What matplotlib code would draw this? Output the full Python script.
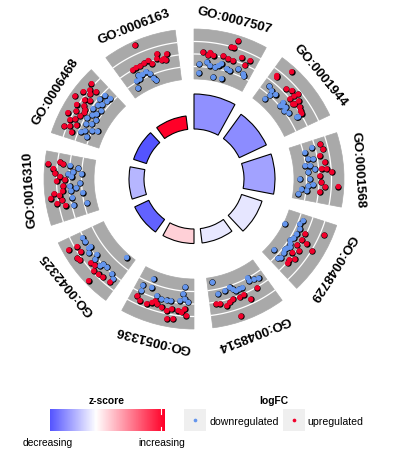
import numpy as np
import matplotlib
matplotlib.use('Agg')
import matplotlib.pyplot as plt
from matplotlib.colors import LinearSegmentedColormap, Normalize
from matplotlib.patches import Rectangle

plt.rcParams['font.family'] = ['Liberation Sans', 'DejaVu Sans']

# GO terms, clockwise from 12 o'clock
go_ids = ['GO:0007507', 'GO:0001944', 'GO:0001568', 'GO:0048729', 'GO:0048514',
          'GO:0051336', 'GO:0042325', 'GO:0016310', 'GO:0006468', 'GO:0006163']
neg_log_padj = [7.0, 6.0, 6.2, 4.3, 2.9, 2.9, 3.1, 3.0, 2.7, 2.7]
zscores = [-1.3, -1.35, -1.1, -0.3, -0.28, 0.55, -1.85, -0.85, -2.0, 3.0]
# logFC axis range used inside each term's outer block
lfc_limits = [(-3, 4), (-4, 5), (-4, 4), (-2, 3), (-4, 5),
              (-4, 4), (-3, 2), (-5, 4), (-4, 4), (-2, 3)]

# gene logFC per term and where the gene sits across the block (0..1)
lfc_0007507 = [3.30, 2.25, 0.78, 0.85, 0.50, 0.71, 0.50, 0.43, 1.27, 1.34, 0.43, 0.43, 2.18,
               -0.90, -0.55, -0.97, -0.76, -0.41, -0.90, -0.41, -0.76, -2.51, -2.44, -2.16, -1.04, -1.04, -1.11]
pos_0007507 = [.64, .61, .08, .21, .28, .46, .56, .66, .79, .95, .90, .18, .56,
               .02, .17, .24, .41, .46, .59, .81, .94, .35, .54, .02, .97, .66, .35]
lfc_0001944 = [1.85, 4.10, 1.22, 1.76, 1.40, 1.49, 1.04, 0.68, 2.21, 0.50, 0.32, 1.58, 0.77, 0.59,
               -0.49, -0.85, -2.74, -1.66, -1.30, -1.66, -1.21, -0.40, -1.66, -0.85, -0.85, -1.03, -0.13]
pos_0001944 = [.02, .17, .31, .40, .50, .62, .72, .84, .52, .49, .60, .04, .79, .62,
               .04, .13, .14, .47, .51, .61, .70, .85, .17, .24, .46, .57, .86]
lfc_0001568 = [-1.76, -1.44, -1.28, -1.68, -1.44, -1.68, -1.84, -3.12, -0.64, -0.56, -0.88, -2.72, -3.04, -2.08, -0.48,
               0.96, 1.20, 0.48, 1.12, 1.28, 2.08, 0.40, 1.04, 0.24, 3.12, 0.48, 0.16]
pos_0001568 = [.10, .24, .38, .51, .65, .79, .89, .98, .26, .46, .76, .87, .65, .37, .04,
               .02, .12, .22, .35, .47, .53, .71, .79, .89, .77, .46, .59]
lfc_0048729 = [-0.30, -0.30, -0.40, -0.40, -0.25, -1.30, -1.85, -0.35, -0.40, -0.35, -0.50, -0.60, -0.20, -0.50, -0.45,
               2.20, 1.85, 0.40, 0.25, 0.30, 0.50, 0.60, 0.40, 1.00, 0.75, 0.90]
pos_0048729 = [.03, .21, .43, .67, .90, .87, .25, .33, .56, .79, .12, .50, .62, .72, .95,
               .13, .46, .38, .51, .68, .82, .89, .25, .40, .58, .75]
lfc_0048514 = [-3.10, -0.85, -1.48, -0.49, -0.58, -1.12, -0.94, -1.75, -0.58, -0.94, -1.12, -0.67,
               0.95, 1.58, 0.77, 0.86, 1.94, 0.68, 4.10, 0.86, 1.13, 0.68]
pos_0048514 = [.97, .90, .64, .54, .40, .22, .12, .22, .47, .59, .75, .03,
               .90, .79, .65, .52, .35, .15, .61, .97, .72, .43]
lfc_0051336 = [-1.36, -1.12, -0.24, -0.40, -0.08, -0.08, -0.16, -0.40, -0.72, -0.24, -2.64, -2.72, -1.52,
               0.80, 1.28, 1.36, 0.88, 0.88, 1.20, 1.52, 1.12, 1.20, 1.44, 0.88, 1.92, 2.80, 2.64, 0.48]
pos_0051336 = [.78, .96, .94, .63, .53, .43, .35, .18, .09, .02, .10, .81, .13,
               .97, .89, .76, .68, .58, .49, .39, .31, .19, .13, .08, .04, .36, .26, .63]
lfc_0042325 = [-0.40, -0.45, -0.65, -0.15, -0.25, -0.20, -0.60, -0.45, -0.15, -2.65, -0.40, -0.70, -0.55,
               1.40, 0.50, 0.45, 1.10, 0.30, 0.60, 0.50, 0.40, 1.65, 0.30, 1.00, 0.15]
pos_0042325 = [.98, .89, .76, .68, .52, .37, .26, .11, .03, .10, .76, .57, .35,
               .91, .89, .78, .72, .52, .38, .28, .19, .32, .04, .67, .44]
lfc_0016310 = [3.37, 1.30, 0.67, 2.02, 1.12, 1.75, 0.58, 3.01, 1.39, 1.03, 0.58, 2.02, 2.29, 0.22, 0.76, 2.38,
               -0.59, -1.22, -0.95, -0.59, -0.77, -0.86, -0.86, -2.48, -2.12, -2.75, -2.84, -3.29, -0.32, -1.76]
pos_0016310 = [.89, .94, .91, .74, .69, .61, .52, .33, .36, .27, .17, .23, .40, .63, .43, .82,
               .90, .78, .69, .51, .42, .29, .14, .56, .86, .75, .36, .13, .74, .47]
lfc_0006468 = [0.96, 2.40, 1.60, 0.64, 2.00, 1.28, 2.80, 0.80, 1.76, 0.48, 2.24, 1.12, 3.20, 1.60, 0.80,
               2.56, 1.44, 1.92, 0.96, 2.40, 0.64,
               -1.60, -0.40, -0.96, -2.00, -0.64, -1.44, -0.32, -1.76, -0.80, -1.28, -0.32, -1.60, -0.64,
               -1.12, -0.24, -1.36, -0.48, -1.44, -2.80]
pos_0006468 = [.03, .08, .12, .18, .22, .27, .31, .36, .40, .45, .50, .55, .60, .64, .69,
               .74, .78, .83, .88, .93, .50,
               .05, .10, .15, .21, .28, .33, .39, .44, .49, .55, .60, .66, .71,
               .77, .82, .88, .94, .97, .25]
lfc_0006163 = [2.60, 1.05, 0.40, 0.70, 0.60, 0.50, 0.50, 0.55, 0.25, 0.30, 0.20, 0.80, 0.60,
               -0.25, -1.35, -0.35, -0.25, -0.60, -1.15, -1.45, -0.65, -0.65]
pos_0006163 = [.41, .71, .81, .52, .43, .34, .18, .26, .57, .76, .84, .88, .68,
               .23, .09, .31, .40, .46, .49, .53, .14, .22]

gene_lfc = [lfc_0007507, lfc_0001944, lfc_0001568, lfc_0048729, lfc_0048514,
            lfc_0051336, lfc_0042325, lfc_0016310, lfc_0006468, lfc_0006163]
gene_pos = [pos_0007507, pos_0001944, pos_0001568, pos_0048729, pos_0048514,
            pos_0051336, pos_0042325, pos_0016310, pos_0006468, pos_0006163]

up_col = '#F2002B'
down_col = '#6495ED'
block_col = '#A9A9A9'

W, H = 393, 460
fig = plt.figure(figsize=(W / 100, H / 100), dpi=100)

# polar axes: centre at (194, 180) px, 50 px per radial unit
cx, cy, unit, rmax = 194, 180, 50, 3.5
rad = unit * rmax
ax = fig.add_axes([(cx - rad) / W, (H - cy - rad) / H, 2 * rad / W, 2 * rad / H], projection='polar')
ax.set_theta_zero_location('N')
ax.set_theta_direction(-1)
ax.set_ylim(0, rmax)
ax.axis('off')

N = len(go_ids)
sector = 2 * np.pi / N
span = 0.8 * sector
starts = np.arange(N) * sector

cmap = LinearSegmentedColormap.from_list('zsc', ['#0000FF', '#FFFFFF', '#FF0028'])
zmax = max(abs(z) for z in zscores)
norm = Normalize(-zmax, zmax)

# outer grey blocks with white guide arcs
ax.bar(starts, 1, width=span, bottom=2, align='edge', color=block_col, edgecolor=block_col, linewidth=0.5)
for s in starts:
    th = np.linspace(s, s + span, 60)
    for r in (2.25, 2.5, 2.75):
        ax.plot(th, np.full_like(th, r), color='white', linewidth=0.9)

# inner bars: height = significance, fill = z-score
ax.bar(starts, np.array(neg_log_padj) * 0.1, width=span, bottom=1, align='edge',
       color=cmap(norm(np.array(zscores))), edgecolor='black', linewidth=0.8)

# gene points
all_th, all_r, all_c = [], [], []
for i in range(N):
    lo, hi = lfc_limits[i]
    lfc = np.array(gene_lfc[i])
    pos = np.array(gene_pos[i])
    all_th.append(starts[i] + (0.06 + 0.68 * pos) * sector)
    all_r.append(2 + (lfc - lo) / (hi - lo))
    all_c += [up_col if v > 0 else down_col for v in lfc]
all_th = np.concatenate(all_th)
all_r = np.concatenate(all_r)
ax.scatter(all_th, all_r, s=21, color='black', linewidths=0, zorder=3)
ax.scatter(all_th, all_r, s=15, color=all_c, linewidths=0, zorder=4)

# term labels
for i, gid in enumerate(go_ids):
    tc = starts[i] + span / 2
    ax.text(tc, 3.28, gid, rotation=-np.degrees(tc), rotation_mode='anchor',
            ha='center', va='center', fontsize=9.5, fontweight='bold')

# legends drawn in pixel coordinates
lax = fig.add_axes([0, 0, 1, 1])
grad = np.linspace(min(zscores), max(zscores), 256)[None, :]
lax.imshow(grad, cmap=cmap, norm=norm, extent=(50, 164.3, 432, 410), aspect='auto')
tick_x = 164.3 - 114.3 / 40
lax.plot([tick_x, tick_x], [410, 414.5], color='white', linewidth=0.8)
lax.plot([tick_x, tick_x], [427.5, 432], color='white', linewidth=0.8)
lax.text(107, 401, 'z-score', ha='center', va='center', fontsize=7.4, fontweight='bold')
lax.text(48, 443.5, 'decreasing', ha='center', va='center', fontsize=7.4)
lax.text(tick_x, 443.5, 'increasing', ha='center', va='center', fontsize=7.4)

lax.text(273.7, 401, 'logFC', ha='center', va='center', fontsize=7.4, fontweight='bold')
for kx, col, lab in [(184, down_col, 'downregulated'), (282.7, up_col, 'upregulated')]:
    lax.add_patch(Rectangle((kx, 410), 22, 22, facecolor='#EFEFEF', edgecolor='none'))
    lax.scatter([kx + 11], [421], s=7, color=col, linewidths=0)
    lax.text(kx + 25, 422, lab, ha='left', va='center', fontsize=7.6)

lax.set_xlim(0, W)
lax.set_ylim(H, 0)
lax.axis('off')

fig.savefig('out.png', dpi=100)
